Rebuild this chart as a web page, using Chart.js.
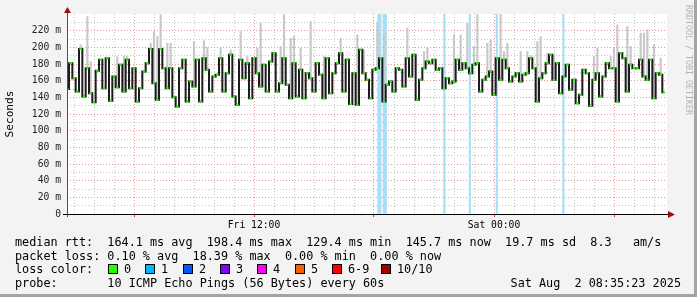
<!DOCTYPE html>
<html>
<head>
<meta charset="utf-8">
<script src="https://cdn.jsdelivr.net/npm/chart.js@4.4.1/dist/chart.umd.min.js"></script>
<style>
  body { margin: 0; background: #fff; }
  #wrap { position: relative; width: 697px; height: 297px; background: #f3f3f3; overflow: hidden; }
  #chart { position: absolute; left: 0; top: 0; }
  .ln { position: absolute; left: 15px; font: 11.8px "DejaVu Sans Mono", monospace; color: #000; white-space: pre; line-height: 14px; }
  .date { left: auto; right: 16px; }
  .sw { position: absolute; top: 264px; width: 8px; height: 8px; border: 1px solid #000; }
  .swl { position: absolute; top: 262px; font: 11.8px "DejaVu Sans Mono", monospace; white-space: pre; line-height: 14px; }
  .mark { position: absolute; left: 684px; top: 5px; writing-mode: vertical-rl; font: 8.3px "DejaVu Sans Mono", monospace; color: #b4b4b4; white-space: pre; }
  .edge-r { position: absolute; right: 0; top: 0; width: 3px; height: 297px; background: #a4a4a4; }
  .edge-b { position: absolute; left: 0; bottom: 0; width: 697px; height: 3px; background: #a4a4a4; }
</style>
</head>
<body>
<div id="wrap">
  <canvas id="chart" width="697" height="297"></canvas>
  <div class="mark">RRDTOOL / TOBI OETIKER</div>
  <div class="ln" style="top:235px">median rtt:  164.1 ms avg  198.4 ms max  129.4 ms min  145.7 ms now  19.7 ms sd  8.3   am/s</div>
  <div class="ln" style="top:249px">packet loss: 0.10 % avg  18.39 % max  0.00 % min  0.00 % now</div>
  <div class="ln" style="top:262px">loss color:</div>
  <div id="swatches"></div>
  <div class="ln" style="top:276px">probe:       10 ICMP Echo Pings (56 Bytes) every 60s</div>
  <div class="ln date" style="top:276px">Sat Aug  2 08:35:23 2025</div>
  <div class="edge-r"></div>
  <div class="edge-b"></div>
</div>
<script>
// median rtt in ms, one sample every 10 minutes from Fri 02:40
const median = [
  150, 181, 163, 147, 198, 141, 175, 145, 134, 172, 185, 151, 187, 136, 165,
  152, 179, 147, 185, 151, 175, 135, 151, 171, 181, 198, 157, 137, 198, 175,
  151, 175, 140, 129, 175, 185, 135, 159, 153, 185, 135, 187, 173, 147, 165,
  167, 187, 147, 169, 191, 141, 131, 185, 163, 181, 139, 187, 169, 153, 179,
  147, 183, 193, 147, 157, 187, 155, 139, 181, 141, 173, 139, 169, 163, 147,
  181, 167, 139, 187, 145, 169, 181, 193, 147, 185, 132, 169, 131, 197, 169,
  161, 139, 173, 175, 187, 135, 155, 159, 147, 175, 173, 153, 187, 165, 191,
  137, 161, 175, 183, 181, 185, 173, 175, 151, 163, 157, 159, 185, 173, 181,
  175, 169, 179, 181, 147, 161, 165, 171, 143, 187, 161, 185, 175, 159, 165,
  169, 159, 167, 169, 187, 175, 135, 163, 169, 181, 191, 161, 181, 145, 165,
  179, 149, 161, 133, 143, 173, 169, 130, 161, 169, 141, 165, 181, 175, 175,
  135, 193, 187, 147, 179, 175, 175, 185, 165, 161, 185, 139, 169, 167, 146
];

// highest ping of each sample where the grey smoke shows above the median
const maxRtt = [
  null, null, null, null, 203, null, 237, 183, null, null,
  null, null, null, null, null, 189, null, 189, 189, null,
  null, null, null, null, null, 205, 219, 213, 239, null,
  205, 205, null, null, null, null, null, null, 207, null,
  null, 208, 200, null, null, null, 199, null, null, 197,
  null, null, 219, null, 189, null, null, 199, 229, null,
  null, null, null, null, 201, 239, null, 211, 213, null,
  199, null, null, 231, null, null, null, 189, null, null,
  null, null, 211, null, 187, null, null, 215, null, 197,
  null, null, null, 229, null, 217, null, null, null, null,
  null, null, 223, null, null, null, null, 195, 199, null,
  null, null, null, null, null, null, 215, null, 215, null,
  229, null, 201, 239, null, null, 205, 209, null, null,
  240, 195, 205, null, null, null, 195, null, 195, 190,
  null, 207, 213, null, 193, null, 191, null, null, null,
  null, null, null, null, null, null, null, null, 189, 199,
  null, null, null, 189, 199, 227, null, null, 225, 201,
  null, null, 217, 217, 221, null, 203, null, 187, null
];

// samples with packet loss (hour since Fri 00:00, minutes covered)
const lossHours = [18.27, 18.54, 21.52, 22.79, 24.14, 27.47];
const lossMinutes = [12, 9, 6, 3, 3, 3];

const lossColors = ['#26ff00', '#00b8ff', '#0059ff', '#7e00ff', '#ff00ff', '#ff5e00', '#ff0000', '#a10000'];
const lossLabels = ['0', '1', '2', '3', '4', '5', '6-9', '10/10'];
const swatchX = [108, 145, 183, 220, 257, 295, 332, 381];

const xTickHours = [12, 24];
const xTickLabels = ['Fri 12:00', 'Sat 00:00'];

const startHour = 2 + 40 / 60;
const stepMinutes = 10;
const xMin = 2.65, xMax = 32.65;
const yMax = 240;

const sw = document.getElementById('swatches');
lossLabels.forEach((l, i) => {
  sw.insertAdjacentHTML('beforeend',
    `<span class="sw" style="left:${swatchX[i]}px;background:${lossColors[i]}"></span>` +
    `<span class="swl" style="left:${swatchX[i] + 16}px">${l}</span>`);
});

const times = median.map((v, i) => startHour + i * stepMinutes / 60);
const medianPts = median.map((v, i) => ({ x: times[i], y: v }));
const smokePts = [];
maxRtt.forEach((m, i) => {
  if (m !== null) smokePts.push({ x: times[i], y: [median[i], m] });
});
const lossWide = [], lossThin = [];
lossHours.forEach((h, i) => {
  (lossMinutes[i] >= 9 ? lossWide : lossThin).push({ x: h, y: [0, yMax] });
});

// one grid line per hour, a red one every 6 hours
const hourTicks = [];
for (let h = Math.ceil(xMin); h <= xMax; h++) hourTicks.push(h);

const majorGrid = '#e49a9a';
const minorGrid = '#c6c6c6';

function tickVal(c) {
  return c && c.tick ? c.tick.value : NaN;
}

const rrdFrame = {
  id: 'rrdFrame',
  beforeDraw(chart) {
    const { ctx, chartArea: a } = chart;
    ctx.save();
    ctx.fillStyle = '#fff';
    ctx.fillRect(a.left, a.top, a.right - a.left, a.bottom - a.top);
    ctx.restore();
  },
  afterDraw(chart) {
    const { ctx, chartArea: a } = chart;
    ctx.save();
    ctx.lineWidth = 1;
    ctx.strokeStyle = '#505050';
    ctx.beginPath();
    ctx.moveTo(a.left + 0.5, a.bottom + 3);
    ctx.lineTo(a.left + 0.5, a.top - 4);
    ctx.stroke();
    ctx.strokeStyle = '#000';
    ctx.beginPath();
    ctx.moveTo(a.left - 4, a.bottom + 0.5);
    ctx.lineTo(a.right + 3, a.bottom + 0.5);
    ctx.stroke();
    ctx.fillStyle = '#9b1010';
    ctx.beginPath();
    ctx.moveTo(a.left + 0.5, a.top - 7);
    ctx.lineTo(a.left - 3, a.top - 1);
    ctx.lineTo(a.left + 4, a.top - 1);
    ctx.closePath();
    ctx.fill();
    ctx.beginPath();
    ctx.moveTo(a.right + 8, a.bottom + 0.5);
    ctx.lineTo(a.right + 1, a.bottom - 3);
    ctx.lineTo(a.right + 1, a.bottom + 4);
    ctx.closePath();
    ctx.fill();
    ctx.restore();
  }
};

Chart.defaults.font.family = '"DejaVu Sans Mono", monospace';

new Chart(document.getElementById('chart'), {
  type: 'line',
  data: {
    datasets: [
      {
        type: 'bar', data: lossWide, backgroundColor: '#a9def7',
        barThickness: 3.5, grouped: false, order: 5
      },
      {
        type: 'bar', data: lossThin, backgroundColor: '#a9def7',
        barThickness: 1.5, grouped: false, order: 5
      },
      {
        type: 'bar', data: smokePts, backgroundColor: '#c8c8c8',
        barThickness: 1.5, grouped: false, order: 4
      },
      {
        data: medianPts, borderColor: '#1c1c1c', borderWidth: 2,
        stepped: 'middle', pointRadius: 0, order: 2
      },
      {
        data: medianPts, showLine: false, pointStyle: 'line',
        pointRadius: 1.2, pointBorderWidth: 2, pointBorderColor: '#26ff00',
        pointBackgroundColor: '#26ff00', order: 1
      }
    ]
  },
  options: {
    responsive: false,
    animation: false,
    events: [],
    layout: { padding: { top: 14, right: 30, left: 0, bottom: 0 } },
    plugins: { legend: { display: false }, tooltip: { enabled: false } },
    scales: {
      x: {
        type: 'linear', min: xMin, max: xMax, offset: false,
        afterFit(s) { s.height = 297 - 214; },
        afterBuildTicks(s) { s.ticks = hourTicks.map(h => ({ value: h })); },
        border: { display: false, dash: [1, 2] },
        grid: {
          offset: false,
          color(c) {
            const v = tickVal(c);
            if (isNaN(v)) return 'rgba(0,0,0,0)';
            return v % 6 === 0 ? majorGrid : minorGrid;
          },
          tickColor(c) {
            const v = tickVal(c);
            return v % 6 === 0 ? '#d04040' : 'rgba(0,0,0,0)';
          },
          tickLength: 3, tickBorderDash: []
        },
        ticks: {
          autoSkip: false, maxRotation: 0, minRotation: 0,
          padding: 3, color: '#000', font: { size: 9.7 },
          callback(v) {
            const k = xTickHours.indexOf(v);
            return k >= 0 ? xTickLabels[k] : '';
          }
        }
      },
      y: {
        min: 0, max: yMax,
        afterFit(s) { s.width = 67; },
        border: { display: false, dash: [1, 2] },
        grid: {
          offset: false,
          drawTicks: false,
          color(c) {
            const v = tickVal(c);
            if (!(v > 0 && v < yMax)) return 'rgba(0,0,0,0)';
            return v % 20 === 0 ? majorGrid : minorGrid;
          }
        },
        ticks: {
          stepSize: 10, autoSkip: false, padding: 6, color: '#222', font: { size: 9.7 },
          callback(v) {
            if (v % 20 !== 0 || v >= yMax) return '';
            return v === 0 ? '0' : v + ' m';
          }
        },
        title: {
          display: true, text: 'Seconds', color: '#000',
          font: { size: 11.1 }, padding: { top: 3.5, bottom: 0 }
        }
      }
    }
  },
  plugins: [rrdFrame]
});
</script>
</body>
</html>
